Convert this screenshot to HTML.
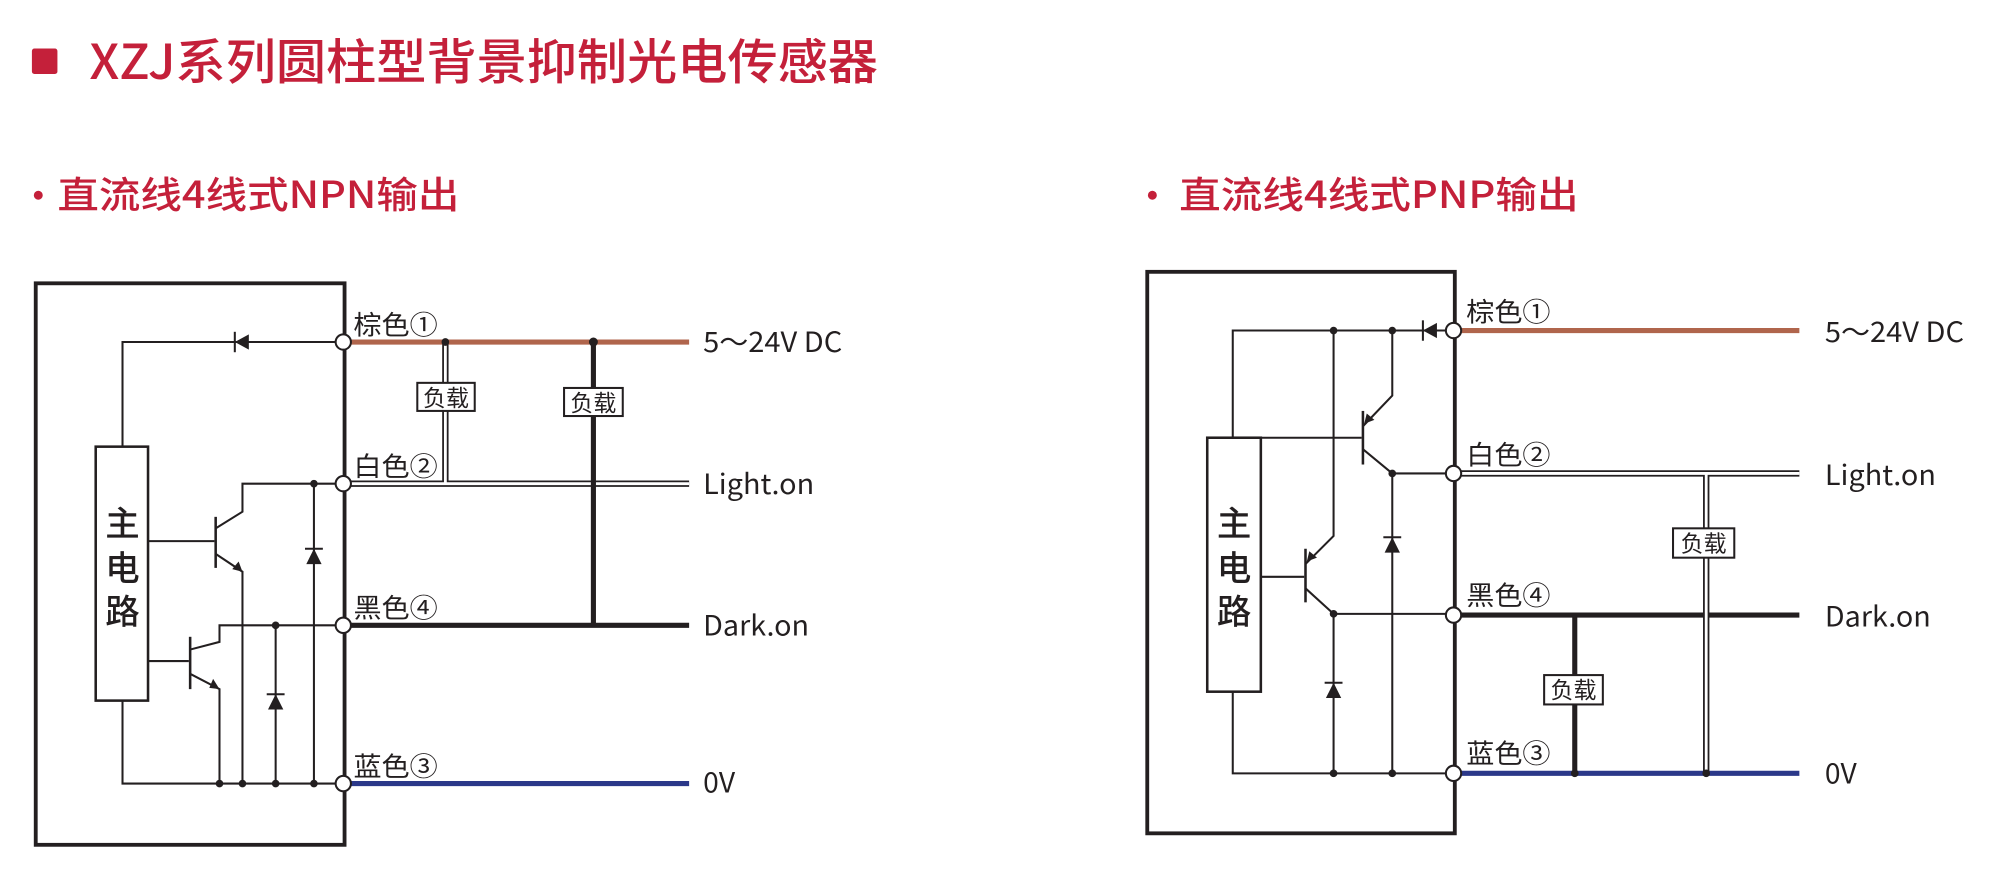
<!DOCTYPE html>
<html><head><meta charset="utf-8"><style>
html,body{margin:0;padding:0;background:#fff;}
svg{display:block;}
text{font-family:"Liberation Sans","Noto Sans CJK SC",sans-serif;}
.cj{font-family:"Noto Sans CJK SC","Liberation Sans",sans-serif;}
</style></head><body>
<svg width="2001" height="890" viewBox="0 0 1568 697.4" xmlns="http://www.w3.org/2000/svg">
<rect x="0" y="0" width="1568" height="698" fill="#fff"/>
<rect x="25" y="38" width="20" height="20" rx="2" fill="#c4203a"/>
<text x="70" y="62" class="cj" font-size="38" font-weight="500" fill="#c4203a" textLength="618" lengthAdjust="spacingAndGlyphs">XZJ系列圆柱型背景抑制光电传感器</text>
<circle cx="30" cy="153" r="3.5" fill="#c4203a"/>
<text x="45" y="163" class="cj" font-size="29" font-weight="500" fill="#c4203a" textLength="315" lengthAdjust="spacingAndGlyphs">直流线4线式NPN输出</text>
<circle cx="903" cy="153" r="3.5" fill="#c4203a"/>
<text x="924" y="163" class="cj" font-size="29" font-weight="500" fill="#c4203a" textLength="313" lengthAdjust="spacingAndGlyphs">直流线4线式PNP输出</text>

<g stroke-linecap="butt" fill="none">
<rect x="28" y="222" width="242" height="440" stroke="#231f20" stroke-width="3"/>
<line x1="275" y1="268" x2="540" y2="268" stroke="#b0654c" stroke-width="4"/>
<line x1="275" y1="379" x2="540" y2="379" stroke="#231f20" stroke-width="5"/>
<line x1="275" y1="379" x2="540" y2="379" stroke="#fff" stroke-width="2.2"/>
<line x1="275" y1="490" x2="540" y2="490" stroke="#231f20" stroke-width="4"/>
<line x1="275" y1="614" x2="540" y2="614" stroke="#2b3889" stroke-width="4"/>
<line x1="349" y1="268" x2="349" y2="377" stroke="#231f20" stroke-width="5"/>
<line x1="349" y1="270" x2="349" y2="379" stroke="#fff" stroke-width="2.2"/>
<line x1="465" y1="268" x2="465" y2="490" stroke="#231f20" stroke-width="4"/>
<g stroke="#231f20" stroke-width="1.6">
<polyline points="269,268 96,268 96,350"/>
<rect x="75" y="350" width="41" height="199" stroke-width="2"/>
<polyline points="96,549 96,614 269,614"/>
<line x1="116" y1="424" x2="168" y2="424"/>
<line x1="169" y1="405" x2="169" y2="445" stroke-width="2"/>
<polyline points="169,414 190,401 190,379 269,379"/>
<polyline points="169,434 190,448 190,614"/>
<line x1="116" y1="518" x2="148" y2="518"/>
<line x1="149" y1="499" x2="149" y2="540" stroke-width="2"/>
<polyline points="149,509 172,503 172,490 269,490"/>
<polyline points="149,528 172,540 172,614"/>
<line x1="246" y1="379" x2="246" y2="614"/>
<line x1="216" y1="490" x2="216" y2="614"/>
<line x1="239" y1="430" x2="253" y2="430"/>
<line x1="209" y1="544" x2="223" y2="544"/>
<line x1="184" y1="260" x2="184" y2="276"/>
</g>
<g fill="#231f20" stroke="none">
<polygon points="184,268 195,262 195,274"/>
<polygon points="246,430 240,442 252,442"/>
<polygon points="216,544 210,556 222,556"/>
<polygon points="190,448 182,446 187,440"/>
<polygon points="172,540 164,539 167,532"/>
<circle cx="246" cy="379" r="3"/><circle cx="216" cy="490" r="3"/>
<circle cx="172" cy="614" r="3"/><circle cx="190" cy="614" r="3"/>
<circle cx="216" cy="614" r="3"/><circle cx="246" cy="614" r="3"/>
<circle cx="349" cy="268" r="3"/><circle cx="465" cy="268" r="3.5"/>
</g>
<g fill="#fff" stroke="#231f20" stroke-width="1.6">
<circle cx="269" cy="268" r="6"/><circle cx="269" cy="379" r="6"/>
<circle cx="269" cy="490" r="6"/><circle cx="269" cy="614" r="6"/>
<rect x="327" y="300" width="45" height="22"/>
<rect x="442" y="304" width="46" height="22"/>
</g>

<rect x="899" y="213" width="241" height="440" stroke="#231f20" stroke-width="3"/>
<line x1="1145" y1="259" x2="1410" y2="259" stroke="#b0654c" stroke-width="4"/>
<line x1="1145" y1="371" x2="1410" y2="371" stroke="#231f20" stroke-width="5"/>
<line x1="1145" y1="371" x2="1410" y2="371" stroke="#fff" stroke-width="2.2"/>
<line x1="1145" y1="482" x2="1410" y2="482" stroke="#231f20" stroke-width="4"/>
<line x1="1145" y1="606" x2="1410" y2="606" stroke="#2b3889" stroke-width="4"/>
<line x1="1234" y1="482" x2="1234" y2="606" stroke="#231f20" stroke-width="4"/>
<line x1="1337" y1="373" x2="1337" y2="606" stroke="#231f20" stroke-width="5"/>
<line x1="1337" y1="371" x2="1337" y2="604" stroke="#fff" stroke-width="2.2"/>
<g stroke="#231f20" stroke-width="1.6">
<polyline points="1139,259 966,259 966,343"/>
<rect x="946" y="343" width="42" height="199" stroke-width="2"/>
<polyline points="966,542 966,606 1139,606"/>
<line x1="988" y1="343" x2="1067" y2="343"/>
<line x1="1068" y1="322" x2="1068" y2="364" stroke-width="2"/>
<polyline points="1068,334 1091,310 1091,259"/>
<polyline points="1068,352 1091,371 1139,371"/>
<line x1="988" y1="452" x2="1022" y2="452"/>
<line x1="1023" y1="430" x2="1023" y2="472" stroke-width="2"/>
<polyline points="1023,442 1045,420 1045,259"/>
<polyline points="1023,461 1045,481 1139,481"/>
<line x1="1091" y1="371" x2="1091" y2="606"/>
<line x1="1045" y1="481" x2="1045" y2="606"/>
<line x1="1084" y1="421" x2="1098" y2="421"/>
<line x1="1038" y1="535" x2="1052" y2="535"/>
<line x1="1115" y1="251" x2="1115" y2="267"/>
</g>
<g fill="#231f20" stroke="none">
<polygon points="1115,259 1126,253 1126,265"/>
<polygon points="1091,421 1085,433 1097,433"/>
<polygon points="1045,535 1039,547 1051,547"/>
<polygon points="1069,332 1071,324 1077,329"/>
<polygon points="1024,440 1026,432 1032,437"/>
<circle cx="1045" cy="259" r="3"/><circle cx="1091" cy="259" r="3"/>
<circle cx="1091" cy="371" r="3"/><circle cx="1045" cy="481" r="3"/>
<circle cx="1045" cy="606" r="3"/><circle cx="1091" cy="606" r="3"/>
<circle cx="1234" cy="606" r="3"/><circle cx="1337" cy="606" r="3"/>
</g>
<g fill="#fff" stroke="#231f20" stroke-width="1.6">
<circle cx="1139" cy="259" r="6"/><circle cx="1139" cy="371" r="6"/>
<circle cx="1139" cy="482" r="6"/><circle cx="1139" cy="606" r="6"/>
<rect x="1311" y="414" width="48" height="23"/>
<rect x="1210" y="529" width="46" height="23"/>
</g>
</g>

<g fill="#231f20">
<text x="96" y="420" font-size="27" font-weight="500" text-anchor="middle" class="cj">主</text>
<text x="96" y="455" font-size="27" font-weight="500" text-anchor="middle" class="cj">电</text>
<text x="96" y="489" font-size="27" font-weight="500" text-anchor="middle" class="cj">路</text>
<text x="967" y="420" font-size="27" font-weight="500" text-anchor="middle" class="cj">主</text>
<text x="967" y="455" font-size="27" font-weight="500" text-anchor="middle" class="cj">电</text>
<text x="967" y="489" font-size="27" font-weight="500" text-anchor="middle" class="cj">路</text>

<g font-size="21" class="cj">
<text x="277" y="262" class="cj" textLength="66" lengthAdjust="spacingAndGlyphs">棕色①</text>
<text x="277" y="373" class="cj" textLength="66" lengthAdjust="spacingAndGlyphs">白色②</text>
<text x="277" y="484" class="cj" textLength="66" lengthAdjust="spacingAndGlyphs">黑色④</text>
<text x="277" y="608" class="cj" textLength="66" lengthAdjust="spacingAndGlyphs">蓝色③</text>
<text x="1149" y="252" class="cj" textLength="66" lengthAdjust="spacingAndGlyphs">棕色①</text>
<text x="1149" y="364" class="cj" textLength="66" lengthAdjust="spacingAndGlyphs">白色②</text>
<text x="1149" y="474" class="cj" textLength="66" lengthAdjust="spacingAndGlyphs">黑色④</text>
<text x="1149" y="598" class="cj" textLength="66" lengthAdjust="spacingAndGlyphs">蓝色③</text>
</g>

<text x="349.5" y="318" font-size="18" text-anchor="middle" class="cj">负载</text>
<text x="465" y="322" font-size="18" text-anchor="middle" class="cj">负载</text>
<text x="1335" y="432" font-size="18" text-anchor="middle" class="cj">负载</text>
<text x="1233" y="547" font-size="18" text-anchor="middle" class="cj">负载</text>

<g font-size="22" class="cj">
<text x="551" y="276" class="cj" textLength="109" lengthAdjust="spacingAndGlyphs">5～24V DC</text>
<text x="551" y="387" class="cj" textLength="87" lengthAdjust="spacingAndGlyphs">Light.on</text>
<text x="551" y="498" class="cj" textLength="83" lengthAdjust="spacingAndGlyphs">Dark.on</text>
<text x="551" y="621" class="cj" textLength="25" lengthAdjust="spacingAndGlyphs">0V</text>
<text x="1430" y="268" class="cj" textLength="109" lengthAdjust="spacingAndGlyphs">5～24V DC</text>
<text x="1430" y="380" class="cj" textLength="87" lengthAdjust="spacingAndGlyphs">Light.on</text>
<text x="1430" y="491" class="cj" textLength="83" lengthAdjust="spacingAndGlyphs">Dark.on</text>
<text x="1430" y="614" class="cj" textLength="25" lengthAdjust="spacingAndGlyphs">0V</text>
</g>
</g>
</svg>
</body></html>
